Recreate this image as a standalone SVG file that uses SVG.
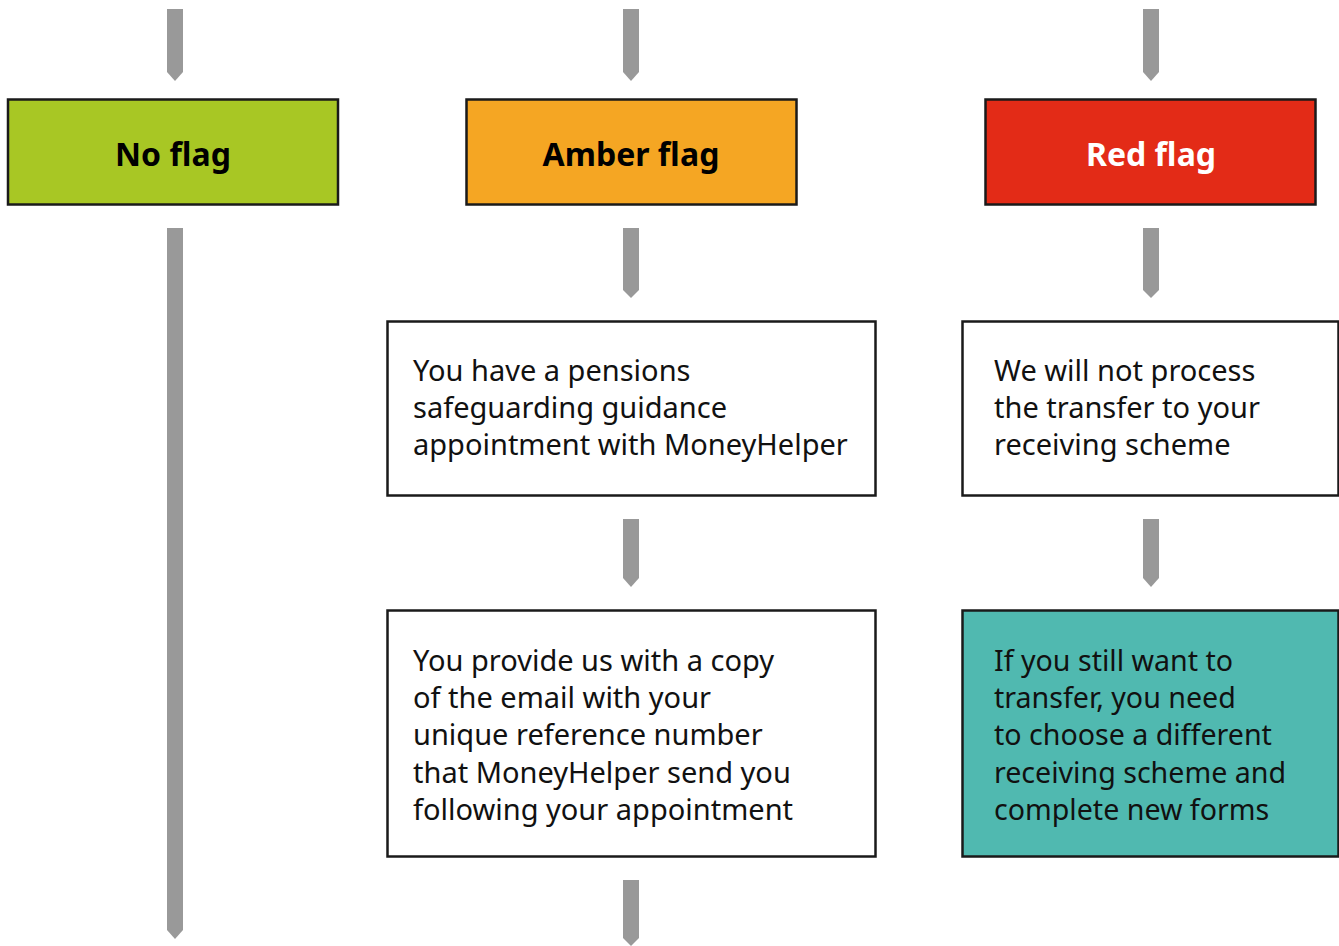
<svg xmlns="http://www.w3.org/2000/svg" width="1339" height="946" viewBox="0 0 1339 946">
<style>
.box{stroke:#1a1a1a;stroke-width:2.5}
.hd{font-family:"Noto Sans",sans-serif;font-weight:bold;font-size:32px;text-anchor:middle}
.tx{font-family:"Noto Sans",sans-serif;font-size:29px;fill:#111}
.tx2{font-family:"Noto Sans",sans-serif;font-size:28.6px;fill:#111}
.ar{fill:#999999}
</style>
<rect width="1339" height="946" fill="#ffffff"/>
<g id="connectors">
<path class="ar" d="M167,9H183V72L175,81L167,72Z"/>
<path class="ar" d="M623,9H639V72L631,81L623,72Z"/>
<path class="ar" d="M1143,9H1159V72L1151,81L1143,72Z"/>
<path class="ar" d="M167,228H183V930L175,939L167,930Z"/>
<path class="ar" d="M623,228H639V290L631,298L623,290Z"/>
<path class="ar" d="M1143,228H1159V290L1151,298L1143,290Z"/>
<path class="ar" d="M623,519H639V578L631,587L623,578Z"/>
<path class="ar" d="M1143,519H1159V578L1151,587L1143,578Z"/>
<path class="ar" d="M623,880H639V938L631,946L623,938Z"/>
</g>
<g id="no-flag">
<rect class="box" x="8" y="99.5" width="330" height="105" fill="#a8c724"/>
<text class="hd" x="173" y="166" fill="#000">No flag</text>
</g>
<g id="amber-flag">
<rect class="box" x="466.5" y="99.5" width="330" height="105" fill="#f5a623"/>
<text class="hd" x="631" y="166" fill="#000">Amber flag</text>
</g>
<g id="red-flag">
<rect class="box" x="985.5" y="99.5" width="330" height="105" fill="#e32b17"/>
<text class="hd" x="1151" y="166" fill="#fff">Red flag</text>
</g>
<g id="amber-step1">
<rect class="box" x="387.5" y="321.5" width="488" height="174" fill="#fff"/>
<text class="tx" x="413" y="381">You have a pensions</text>
<text class="tx" x="413" y="418">safeguarding guidance</text>
<text class="tx" x="413" y="455">appointment with MoneyHelper</text>
</g>
<g id="red-step1">
<rect class="box" x="962.5" y="321.5" width="376" height="174" fill="#fff"/>
<text class="tx" x="994" y="381">We will not process</text>
<text class="tx" x="994" y="418">the transfer to your</text>
<text class="tx" x="994" y="455">receiving scheme</text>
</g>
<g id="amber-step2">
<rect class="box" x="387.5" y="610.5" width="488" height="246" fill="#fff"/>
<text class="tx" x="413" y="671">You provide us with a copy</text>
<text class="tx" x="413" y="708">of the email with your</text>
<text class="tx" x="413" y="745">unique reference number</text>
<text class="tx" x="413" y="783">that MoneyHelper send you</text>
<text class="tx" x="413" y="820">following your appointment</text>
</g>
<g id="red-step2">
<rect class="box" x="962.5" y="610.5" width="376" height="246" fill="#50b9b0"/>
<text class="tx2" x="994" y="671">If you still want to</text>
<text class="tx2" x="994" y="708">transfer, you need</text>
<text class="tx2" x="994" y="745">to choose a different</text>
<text class="tx2" x="994" y="783">receiving scheme and</text>
<text class="tx2" x="994" y="820">complete new forms</text>
</g>
</svg>
